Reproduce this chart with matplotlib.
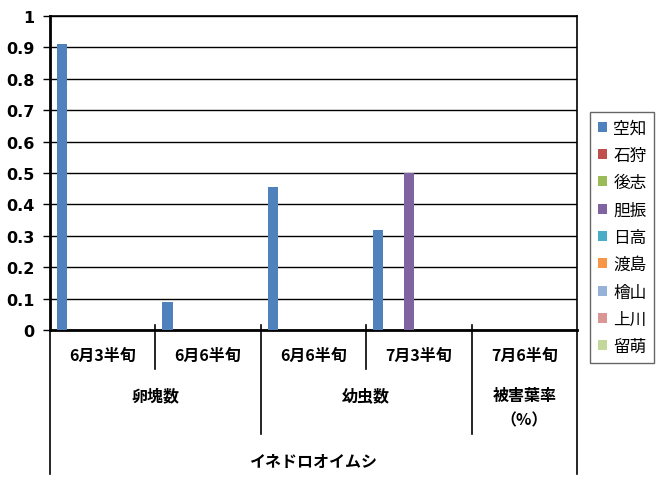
import matplotlib
matplotlib.use("Agg")
import matplotlib.pyplot as plt
from matplotlib.patches import Patch
import numpy as np

plt.rcParams['font.family'] = ['Noto Sans CJK JP', 'DejaVu Sans']

# ---- data ----
level1 = ["6月3半旬", "6月6半旬", "6月6半旬", "7月3半旬", "7月6半旬"]
level2 = ["卵塊数", "幼虫数", "被害葉率\n（%）"]
level2_span = [(0, 2), (2, 4), (4, 5)]
level3 = "イネドロオイムシ"
series_names = ["空知", "石狩", "後志", "胆振", "日高", "渡島", "檜山", "上川", "留萌"]
series_colors = ["#4F81BD", "#C0504D", "#9BBB59", "#8064A2", "#4BACC6",
                 "#F79646", "#95B3D7", "#D99694", "#C3D69B"]
v_sorachi = [0.91, 0.09, 0.455, 0.32, 0.0]
v_ishikari = [0, 0, 0, 0, 0]
v_shiribeshi = [0, 0, 0, 0, 0]
v_iburi = [0, 0, 0, 0.50, 0]
v_hidaka = [0, 0, 0, 0, 0]
v_oshima = [0, 0, 0, 0, 0]
v_hiyama = [0, 0, 0, 0, 0]
v_kamikawa = [0, 0, 0, 0, 0]
v_rumoi = [0, 0, 0, 0, 0]
series_values = [v_sorachi, v_ishikari, v_shiribeshi, v_iburi, v_hidaka,
                 v_oshima, v_hiyama, v_kamikawa, v_rumoi]
yticks = [0, 0.1, 0.2, 0.3, 0.4, 0.5, 0.6, 0.7, 0.8, 0.9, 1]
ytick_labels = ["0", "0.1", "0.2", "0.3", "0.4", "0.5", "0.6", "0.7", "0.8", "0.9", "1"]

W, H = 657, 481
fig = plt.figure(figsize=(W / 100, H / 100), dpi=100)
L, R, T, B = 50, 577, 17, 331
ax = fig.add_axes([L / W, 1 - B / H, (R - L) / W, (B - T) / H])

n = len(level1)
ns = len(series_names)
pad = 0.067
bw = (1 - 2 * pad) / ns
for i, (name, vals, col) in enumerate(zip(series_names, series_values, series_colors)):
    x = np.arange(n) + pad + bw * i
    ax.bar(x, vals, width=bw, align='edge', color=col, edgecolor='none', zorder=3)

ax.set_xlim(0, n)
ax.set_ylim(0, 1)
ax.set_yticks(yticks)
ax.set_yticklabels(ytick_labels, fontsize=11.5, fontweight='bold', family='DejaVu Sans')
ax.tick_params(axis='y', length=5, width=1, direction='out', pad=6)
ax.set_xticks([])
ax.yaxis.grid(True, color='black', linewidth=1)
ax.set_axisbelow(True)
for s in ['left', 'bottom']:
    ax.spines[s].set_linewidth(2)
for s in ['top', 'right']:
    ax.spines[s].set_linewidth(1.2)

# multi-level category axis
def ypx(p):
    return (B - p) / (B - T)

lkw = dict(color='black', linewidth=1.2, clip_on=False, transform=ax.transAxes)
for b in [1, 3]:
    ax.plot([b / n, b / n], [ypx(B - 5), ypx(370)], **lkw)
for b in [2, 4]:
    ax.plot([b / n, b / n], [ypx(B - 5), ypx(435)], **lkw)
for b in [0, 5]:
    ax.plot([b / n, b / n], [0, ypx(475)], **lkw)

tkw = dict(transform=ax.transAxes, ha='center', va='center', fontsize=11.5,
           fontweight='bold', clip_on=False)
for i, lab in enumerate(level1):
    ax.text((i + 0.5) / n, ypx(356), lab, **tkw)
for lab, (a, b) in zip(level2, level2_span):
    ax.text((a + b) / 2 / n, ypx(396) if "\n" not in lab else ypx(408), lab,
            linespacing=1.65, **tkw)
ax.text(0.5, ypx(462), level3, **tkw)

handles = [Patch(facecolor=c, edgecolor='none') for c in series_colors]
leg = fig.legend(handles, series_names, loc='upper left',
                 bbox_to_anchor=(590 / W, 1 - 113 / H), fontsize=12,
                 frameon=True, fancybox=False, edgecolor='#404040',
                 handlelength=0.55, handleheight=0.55, handletextpad=0.4,
                 labelspacing=0.62, borderpad=0.45, borderaxespad=0)
leg.get_frame().set_linewidth(1)

fig.savefig("out.png", dpi=100)
